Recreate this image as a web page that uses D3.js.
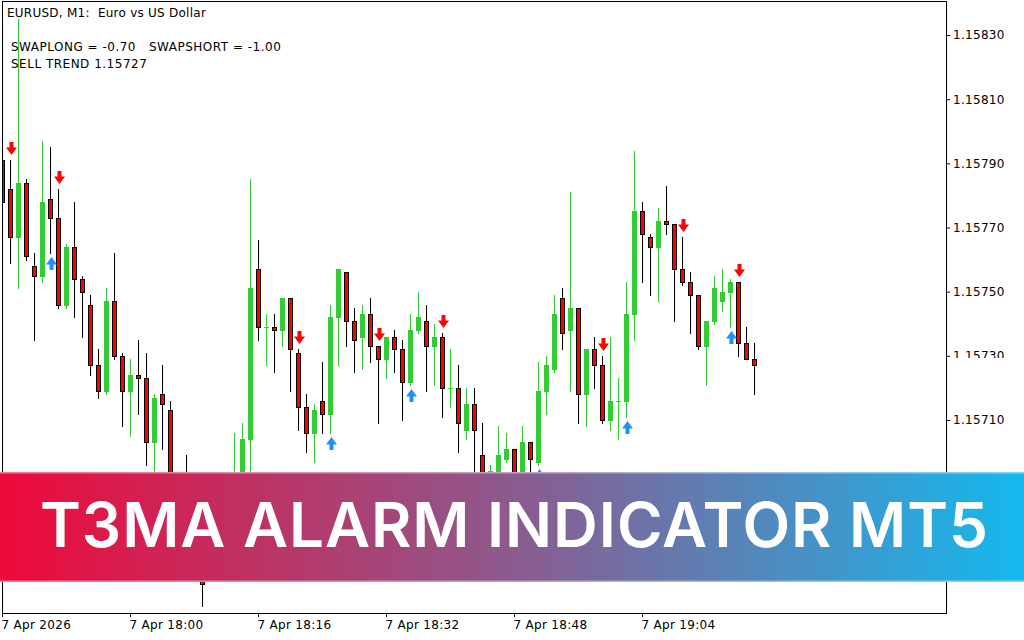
<!DOCTYPE html>
<html><head><meta charset="utf-8">
<script src="https://cdn.jsdelivr.net/npm/d3@7"></script>
<style>html,body{margin:0;padding:0;background:#fff;overflow:hidden} text{white-space:pre}</style>
</head><body><svg id="c" width="1024" height="640"></svg>
<script>
// ---------- data ----------
const startTime = "2026-04-07T17:44:00";
const opens = [1.15791,1.15782,1.15767,1.15784,1.15758,1.15755,1.15779,1.15773,1.15746,1.15764,
 1.15754,1.15746,1.15727,1.15719,1.15747,1.15730,1.15719,1.15724,1.15723,1.15703,
 1.15718,1.15713,1.15687,1.15680,1.15671,1.15677,1.15662,1.15668,1.15676,1.15671,
 1.15685,1.15704,1.15757,1.15739,1.15739,1.15738,1.15748,1.15731,1.15714,1.15706,
 1.15716,1.15712,1.15742,1.15756,1.15741,1.15736,1.15743,1.15733,1.15729,1.15736,
 1.15732,1.15722,1.15738,1.15741,1.15733,1.15736,1.15720,1.15720,1.15707,1.15715,
 1.15699,1.15690,1.15688,1.15698,1.15701,1.15690,1.15703,1.15697,1.15719,1.15726,
 1.15748,1.15738,1.15745,1.15718,1.15732,1.15727,1.15710,1.15716,1.15716,1.15743,
 1.15775,1.15767,1.15764,1.15772,1.15771,1.15757,1.15753,1.15749,1.15733,1.15741,
 1.15747,1.15750,1.15753,1.15734,1.15729];
const highs = [1.15793,1.15791,1.15835,1.15785,1.15762,1.15797,1.15795,1.15782,1.15765,1.15778,
 1.15755,1.15749,1.15732,1.15751,1.15762,1.15731,1.15729,1.15735,1.15731,1.15718,
 1.15727,1.15716,1.15692,1.15699,1.15680,1.15680,1.15671,1.15679,1.15684,1.15706,
 1.15709,1.15785,1.15766,1.15743,1.15743,1.15748,1.15748,1.15732,1.15718,1.15715,
 1.15728,1.15746,1.15757,1.15756,1.15745,1.15746,1.15748,1.15733,1.15736,1.15738,
 1.15735,1.15743,1.15750,1.15746,1.15740,1.15737,1.15732,1.15727,1.15720,1.15720,
 1.15709,1.15696,1.15708,1.15706,1.15701,1.15708,1.15703,1.15728,1.15730,1.15749,
 1.15751,1.15781,1.15745,1.15732,1.15736,1.15730,1.15736,1.15723,1.15753,1.15794,
 1.15778,1.15768,1.15776,1.15783,1.15771,1.15767,1.15756,1.15749,1.15741,1.15755,
 1.15757,1.15754,1.15753,1.15739,1.15734];
const lows = [1.15763,1.15759,1.15751,1.15760,1.15735,1.15753,1.15762,1.15745,1.15745,1.15742,
 1.15736,1.15724,1.15717,1.15718,1.15729,1.15708,1.15705,1.15712,1.15696,1.15688,
 1.15701,1.15684,1.15674,1.15669,1.15666,1.15652,1.15660,1.15665,1.15666,1.15668,
 1.15682,1.15692,1.15735,1.15727,1.15725,1.15733,1.15719,1.15707,1.15700,1.15697,
 1.15706,1.15706,1.15727,1.15733,1.15725,1.15726,1.15728,1.15709,1.15723,1.15725,
 1.15710,1.15721,1.15737,1.15719,1.15721,1.15711,1.15714,1.15700,1.15704,1.15691,
 1.15685,1.15687,1.15685,1.15697,1.15686,1.15687,1.15692,1.15696,1.15712,1.15725,
 1.15732,1.15719,1.15709,1.15708,1.15720,1.15709,1.15707,1.15704,1.15711,1.15735,
 1.15753,1.15749,1.15747,1.15768,1.15741,1.15752,1.15737,1.15732,1.15721,1.15740,
 1.15744,1.15739,1.15730,1.15729,1.15718];
const closes = [1.15778,1.15767,1.15784,1.15761,1.15755,1.15778,1.15773,1.15746,1.15764,1.15754,
 1.15750,1.15727,1.15719,1.15747,1.15730,1.15719,1.15724,1.15723,1.15703,1.15717,
 1.15715,1.15687,1.15679,1.15673,1.15677,1.15659,1.15668,1.15676,1.15671,1.15685,
 1.15704,1.15751,1.15739,1.15739,1.15738,1.15748,1.15732,1.15714,1.15706,1.15713,
 1.15712,1.15742,1.15757,1.15741,1.15735,1.15743,1.15733,1.15729,1.15736,1.15732,
 1.15722,1.15738,1.15742,1.15733,1.15736,1.15720,1.15720,1.15709,1.15715,1.15707,
 1.15688,1.15694,1.15699,1.15701,1.15690,1.15703,1.15698,1.15719,1.15727,1.15743,
 1.15737,1.15745,1.15718,1.15732,1.15727,1.15710,1.15716,1.15716,1.15743,1.15775,
 1.15768,1.15764,1.15772,1.15771,1.15757,1.15753,1.15749,1.15733,1.15741,1.15751,
 1.15750,1.15753,1.15734,1.15729,1.15727];
const sellSignals = [1,7,37,47,55,75,85,92];
const buySignals = [6,41,51,67,78,91];
const yTicks = [1.15710,1.15730,1.15750,1.15770,1.15790,1.15810,1.15830];
const xTickTimes = ["2026-04-07T17:44:00","2026-04-07T18:00:00","2026-04-07T18:16:00","2026-04-07T18:32:00","2026-04-07T18:48:00","2026-04-07T19:04:00"];
const xTickLabels = ["7 Apr 2026","7 Apr 18:00","7 Apr 18:16","7 Apr 18:32","7 Apr 18:48","7 Apr 19:04"];
const titleText = "EURUSD, M1:  Euro vs US Dollar";
const infoLines = ["SWAPLONG = -0.70   SWAPSHORT = -1.00", "SELL TREND 1.15727"];
const bannerText = "T3MA ALARM INDICATOR MT5";

// ---------- build ----------
const parse = d3.isoParse;
const t0 = parse(startTime);
const bars = opens.map((o,i)=>({t:d3.timeMinute.offset(t0,i), o, h:highs[i], l:lows[i], c:closes[i], i}));

const svg = d3.select("#c");
const FONT = "'DejaVu Sans', Verdana, sans-serif";
const FS = 12, LS = 0.3;
const L = 2, R = 946, T = 1, B = 613;

const x = d3.scaleTime().domain([t0, d3.timeMinute.offset(t0,80)]).range([2, 642]);
const y = d3.scaleLinear().domain([1.15710, 1.15830]).range([420, 35]);

svg.append("rect").attr("width",1024).attr("height",640).attr("fill","#fff");

const defs = svg.append("defs");
defs.append("clipPath").attr("id","plot").append("rect")
  .attr("x",L+1).attr("y",T+1).attr("width",R-L-1).attr("height",B-T-1);

const g = svg.append("g").attr("clip-path","url(#plot)");
const GREEN = "#32cd32", DOJI = "#22e022", RED = "#ff0000";

bars.forEach(b=>{
  const cx = Math.round(x(b.t));
  const yh = Math.round(y(b.h)), yl = Math.round(y(b.l));
  const yo = Math.round(y(b.o)), yc = Math.round(y(b.c));
  const bull = b.c > b.o, doji = b.c === b.o;
  const col = (bull||doji) ? (doji?DOJI:GREEN) : "#000";
  g.append("line").attr("x1",cx+0.5).attr("x2",cx+0.5).attr("y1",yh).attr("y2",yl+1)
    .attr("stroke",col).attr("stroke-width",1);
  if (doji) {
    g.append("line").attr("x1",cx-2).attr("x2",cx+3).attr("y1",yo+0.5).attr("y2",yo+0.5)
      .attr("stroke",DOJI).attr("stroke-width",1);
  } else if (bull) {
    g.append("rect").attr("x",cx-2).attr("width",5).attr("y",yc).attr("height",Math.max(1,yo-yc+1))
      .attr("fill",GREEN);
  } else {
    g.append("rect").attr("x",cx-1.5).attr("width",4).attr("y",yo+0.5).attr("height",Math.max(1,yc-yo))
      .attr("fill",RED).attr("stroke","#000").attr("stroke-width",1);
  }
});

// signal arrows
const downArrow = "M-2,0H2V5.5H5.5L0,13L-5.5,5.5H-2Z";
const upArrow = "M-2,13H2V7.5H5.5L0,0L-5.5,7.5H-2Z";
sellSignals.forEach(i=>{
  const b = bars[i];
  g.append("path").attr("d",downArrow)
    .attr("transform",`translate(${Math.round(x(b.t))+1.5},${Math.round(y(b.h))-18})`)
    .attr("fill",RED);
});
buySignals.forEach(i=>{
  const b = bars[i];
  g.append("path").attr("d",upArrow)
    .attr("transform",`translate(${Math.round(x(b.t))+1.5},${Math.round(y(b.l))+4})`)
    .attr("fill","#1e90ff");
});

// frame
svg.append("rect").attr("x",L+0.5).attr("y",T+0.5).attr("width",R-L).attr("height",B-T)
  .attr("fill","none").attr("stroke","#000").attr("stroke-width",1);

// y axis
const yAxis = d3.axisRight(y).tickValues(yTicks).tickFormat(d3.format(".5f")).tickSize(4).tickPadding(3);
const ya = svg.append("g").attr("transform",`translate(${R},0)`).call(yAxis);
ya.select(".domain").remove();
ya.selectAll("line").attr("stroke","#000");
ya.selectAll("text").attr("font-family",FONT).attr("font-size",FS).attr("letter-spacing",LS).attr("fill","#000");
// partially hidden price label
svg.append("rect").attr("x",R+1).attr("y",358).attr("width",1024-R-1).attr("height",14).attr("fill","#fff");

// x axis
const xAxis = d3.axisBottom(x).tickValues(xTickTimes.map(parse))
  .tickFormat((d,i)=>xTickLabels[i]).tickSize(4).tickPadding(3);
const xa = svg.append("g").attr("transform",`translate(0,${B})`).call(xAxis);
xa.select(".domain").remove();
xa.selectAll("line").attr("stroke","#000");
xa.selectAll("text").attr("font-family",FONT).attr("font-size",FS).attr("letter-spacing",LS).attr("fill","#000")
  .attr("text-anchor","start").attr("dx",-1);

// texts
svg.append("text").attr("x",7).attr("y",17).attr("xml:space","preserve").text(titleText)
  .attr("font-family",FONT).attr("font-size",FS).attr("letter-spacing",0.25).attr("fill","#000");
infoLines.forEach((s,k)=>{
  svg.append("text").attr("x",11).attr("y",51+k*17).attr("xml:space","preserve").text(s)
    .attr("font-family",FONT).attr("font-size",FS).attr("letter-spacing",0.5).attr("fill","#000");
});

// banner
const grad = defs.append("linearGradient").attr("id","bg").attr("x1","0").attr("x2","1").attr("y1","0").attr("y2","0");
grad.append("stop").attr("offset","0%").attr("stop-color","#ee0a3a");
grad.append("stop").attr("offset","50%").attr("stop-color","#8c5a8e");
grad.append("stop").attr("offset","100%").attr("stop-color","#14b9ee");
svg.append("rect").attr("x",0).attr("y",472).attr("width",1024).attr("height",110).attr("fill","url(#bg)");
svg.append("rect").attr("x",0).attr("y",472).attr("width",1024).attr("height",1.5).attr("fill","#fff").attr("opacity",0.45);
svg.append("rect").attr("x",0).attr("y",580.5).attr("width",1024).attr("height",1.5).attr("fill","#fff").attr("opacity",0.45);
svg.append("text").attr("x",40).attr("y",547).text(bannerText)
  .attr("font-family","Inter, 'Open Sans', sans-serif").attr("font-weight",600).attr("font-size",62)
  .attr("fill","#fff").attr("textLength",948).attr("lengthAdjust","spacing");
</script></body></html>
